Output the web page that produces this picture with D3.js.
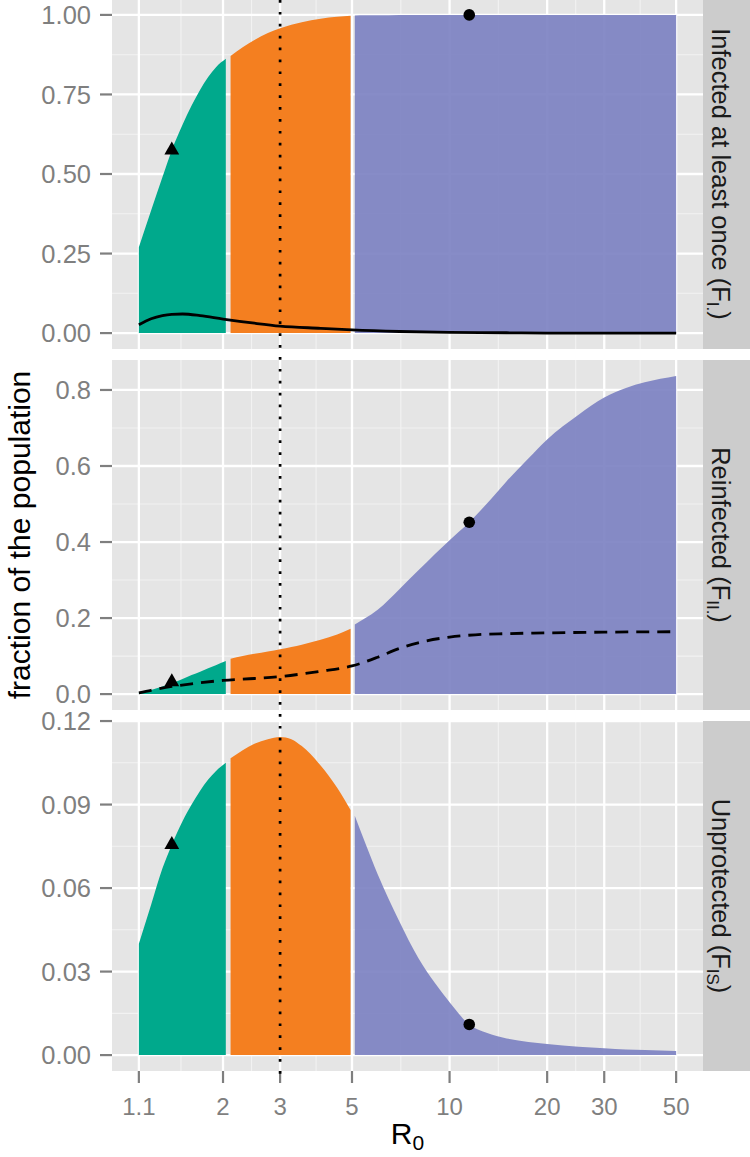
<!DOCTYPE html>
<html><head><meta charset="utf-8">
<script src="https://cdn.jsdelivr.net/npm/d3@7"></script>
<style>
body{margin:0;background:#fff}
svg{display:block}
text{font-family:"Liberation Sans",Arial,Helvetica,sans-serif}
</style>
</head><body>
<svg id="chart" width="750" height="1157"></svg>
<script>
// ---------------- data ----------------
const xTicks = [1.1, 2, 3, 5, 10, 20, 30, 50];
const xTickLabels = ["1.1", "2", "3", "5", "10", "20", "30", "50"];

const greenR  = [1.1, 1.2, 1.3, 1.39, 1.5, 1.6, 1.7, 1.8, 1.9, 2.04];
const orangeR = [2.11, 2.3, 2.5, 2.75, 3, 3.25, 3.5, 4, 4.5, 4.95];
const purpleR = [5.1, 5.5, 6, 7, 8, 9, 10, 11.5, 13, 15, 17.5, 20, 25, 30, 35, 40, 50];

// Infected at least once (F_I.)
const fiGreen  = [0.27, 0.385, 0.49, 0.575, 0.655, 0.715, 0.765, 0.805, 0.835, 0.862];
const fiOrange = [0.871, 0.898, 0.921, 0.943, 0.958, 0.969, 0.977, 0.988, 0.994, 0.997];
const fiPurple = [0.998, 0.999, 0.999, 1, 1, 1, 1, 1, 1, 1, 1, 1, 1, 1, 1, 1, 1];
const fiLineR  = [1.1, 1.2, 1.3, 1.39, 1.5, 1.7, 2, 2.5, 3, 4, 5, 7, 10, 15, 20, 30, 50];
const fiLine   = [0.026, 0.045, 0.055, 0.059, 0.06, 0.055, 0.044, 0.031, 0.022, 0.015, 0.01, 0.005, 0.002, 0.001, 0, 0, 0];

// Reinfected (F_II.)
const fiiGreen  = [0.004, 0.011, 0.02, 0.029, 0.04, 0.05, 0.059, 0.068, 0.076, 0.087];
const fiiOrange = [0.093, 0.1, 0.106, 0.112, 0.118, 0.124, 0.13, 0.143, 0.157, 0.172];
const fiiPurple = [0.183, 0.2, 0.222, 0.276, 0.325, 0.368, 0.405, 0.452, 0.5, 0.56, 0.62, 0.67, 0.735, 0.78, 0.805, 0.82, 0.837];
const fiiLineR  = [1.1, 1.2, 1.39, 1.6, 2, 2.5, 3, 3.5, 4, 5, 6, 7, 8, 10, 12, 15, 20, 30, 50];
const fiiLine   = [0.003, 0.01, 0.02, 0.027, 0.036, 0.041, 0.046, 0.053, 0.06, 0.074, 0.097, 0.12, 0.135, 0.15, 0.156, 0.159, 0.161, 0.163, 0.164];

// Unprotected (F_IS)
const fisGreen  = [0.04, 0.054, 0.067, 0.0756, 0.084, 0.09, 0.095, 0.099, 0.102, 0.105];
const fisOrange = [0.1066, 0.1095, 0.1118, 0.1135, 0.1143, 0.1135, 0.111, 0.104, 0.096, 0.088];
const fisPurple = [0.086, 0.076, 0.065, 0.048, 0.035, 0.026, 0.019, 0.011, 0.008, 0.006, 0.0047, 0.004, 0.003, 0.0025, 0.002, 0.0018, 0.0015];

// marker points (same R0 in every panel)
const triangleR = 1.39;
const circleR = 11.5;
const triangleY = [0.575, 0.032, 0.0756];
const circleY = [1.0, 0.452, 0.011];

const refR0 = 3; // dotted reference line

const yTicks = [[0, 0.25, 0.5, 0.75, 1], [0, 0.2, 0.4, 0.6, 0.8], [0, 0.03, 0.06, 0.09, 0.12]];
const yTickLabels = [["0.00","0.25","0.50","0.75","1.00"], ["0.0","0.2","0.4","0.6","0.8"], ["0.00","0.03","0.06","0.09","0.12"]];
const stripMain = ["Infected at least once (F", "Reinfected (F", "Unprotected (F"];
const stripSub = ["I.", "II.", "IS"];

// ---------------- layout ----------------
const colors = { green: "#00A98C", orange: "#F47F20", purple: "rgba(122,127,193,0.9)" };
const panelLeft = 112, panelRight = 703, stripW = 47;
const panelTops = [-1, 360, 721], panelH = 350;

const svg = d3.select("#chart");

// x log scale with 5% expansion in log space
const lx0 = Math.log10(xTicks[0]), lx1 = Math.log10(xTicks[xTicks.length - 1]);
const ex = (lx1 - lx0) * 0.05;
const x = d3.scaleLog().domain([Math.pow(10, lx0 - ex), Math.pow(10, lx1 + ex)]).range([panelLeft, panelRight]);

const xMinor = [];
for (let i = 0; i < xTicks.length - 1; i++) xMinor.push(Math.pow(10, (Math.log10(xTicks[i]) + Math.log10(xTicks[i + 1])) / 2));

const panels = [
  { areas: [[greenR, fiGreen], [orangeR, fiOrange], [purpleR, fiPurple]], line: [fiLineR, fiLine], dash: null },
  { areas: [[greenR, fiiGreen], [orangeR, fiiOrange], [purpleR, fiiPurple]], line: [fiiLineR, fiiLine], dash: "13,8" },
  { areas: [[greenR, fisGreen], [orangeR, fisOrange], [purpleR, fisPurple]], line: null, dash: null }
];
const areaColors = [colors.green, colors.orange, colors.purple];

panels.forEach((p, i) => {
  const top = panelTops[i], bottom = top + panelH;
  let maxV = 0;
  p.areas.forEach(a => maxV = Math.max(maxV, d3.max(a[1])));
  if (p.line) maxV = Math.max(maxV, d3.max(p.line[1]));
  const ey = maxV * 0.05;
  const y = d3.scaleLinear().domain([-ey, maxV + ey]).range([bottom, top]);
  const g = svg.append("g");

  // background
  g.append("rect").attr("x", panelLeft).attr("y", top).attr("width", panelRight - panelLeft).attr("height", panelH).attr("fill", "#E5E5E5");
  // minor grid
  const ticks = yTicks[i];
  const yMinor = [];
  for (let k = 0; k < ticks.length; k++) {
    const step = ticks[1] - ticks[0];
    [ticks[k] - step / 2, ticks[k] + step / 2].forEach(v => { if (v > y.domain()[0] && v < y.domain()[1] && !yMinor.some(m => Math.abs(m - v) < 1e-9)) yMinor.push(v); });
  }
  g.selectAll(".ymin").data(yMinor).enter().append("line")
    .attr("x1", panelLeft).attr("x2", panelRight).attr("y1", d => y(d)).attr("y2", d => y(d))
    .attr("stroke", "#F2F2F2").attr("stroke-width", 1.1);
  g.selectAll(".xmin").data(xMinor).enter().append("line")
    .attr("x1", d => x(d)).attr("x2", d => x(d)).attr("y1", top).attr("y2", bottom)
    .attr("stroke", "#F2F2F2").attr("stroke-width", 1.1);
  // major grid
  g.selectAll(".ymaj").data(ticks).enter().append("line")
    .attr("x1", panelLeft).attr("x2", panelRight).attr("y1", d => y(d)).attr("y2", d => y(d))
    .attr("stroke", "#FFFFFF").attr("stroke-width", 2.3);
  g.selectAll(".xmaj").data(xTicks).enter().append("line")
    .attr("x1", d => x(d)).attr("x2", d => x(d)).attr("y1", top).attr("y2", bottom)
    .attr("stroke", "#FFFFFF").attr("stroke-width", 2.3);

  // clip
  const clipId = "clip" + i;
  svg.append("clipPath").attr("id", clipId).append("rect").attr("x", panelLeft).attr("y", top).attr("width", panelRight - panelLeft).attr("height", panelH);
  const gc = g.append("g").attr("clip-path", `url(#${clipId})`);

  // areas
  p.areas.forEach((a, j) => {
    const pts = a[0].map((r, k) => [r, a[1][k]]);
    const area = d3.area().x(d => x(d[0])).y0(y(0)).y1(d => y(d[1])).curve(d3.curveMonotoneX);
    gc.append("path").attr("d", area(pts)).attr("fill", areaColors[j]);
  });
  // line
  if (p.line) {
    const pts = p.line[0].map((r, k) => [r, p.line[1][k]]);
    const line = d3.line().x(d => x(d[0])).y(d => y(d[1])).curve(d3.curveMonotoneX);
    gc.append("path").attr("d", line(pts)).attr("fill", "none").attr("stroke", "#000")
      .attr("stroke-width", 2.8).attr("stroke-dasharray", p.dash);
  }
  // markers
  gc.append("path").attr("d", d3.symbol().type(d3.symbolTriangle).size(95)())
    .attr("transform", `translate(${x(triangleR)},${y(triangleY[i])})`).attr("fill", "#000");
  gc.append("circle").attr("cx", x(circleR)).attr("cy", y(circleY[i])).attr("r", 5.8).attr("fill", "#000");

  // y axis
  const ya = g.append("g");
  ticks.forEach((t, k) => {
    ya.append("line").attr("x1", panelLeft - 12).attr("x2", panelLeft).attr("y1", y(t)).attr("y2", y(t))
      .attr("stroke", "#7F7F7F").attr("stroke-width", 2.2);
    ya.append("text").attr("x", panelLeft - 21).attr("y", y(t)).attr("dy", "0.36em")
      .attr("text-anchor", "end").attr("font-size", 25.5).attr("fill", "#7F7F7F").text(yTickLabels[i][k]);
  });

  // strip
  g.append("rect").attr("x", panelRight).attr("y", top).attr("width", stripW).attr("height", panelH).attr("fill", "#CCCCCC");
  const st = g.append("text").attr("transform", `translate(${panelRight + 9},${top + panelH / 2}) rotate(90)`)
    .attr("text-anchor", "middle").attr("font-size", 25.5).attr("fill", "#1A1A1A");
  st.append("tspan").text(stripMain[i]);
  st.append("tspan").attr("font-size", 17).attr("dy", 5).text(stripSub[i]);
  st.append("tspan").attr("dy", -5).text(")");
});

// x axis
const axisTop = panelTops[2] + panelH;
const xa = svg.append("g");
xTicks.forEach((t, k) => {
  xa.append("line").attr("x1", x(t)).attr("x2", x(t)).attr("y1", axisTop).attr("y2", axisTop + 12)
    .attr("stroke", "#7F7F7F").attr("stroke-width", 2.2);
  xa.append("text").attr("x", x(t)).attr("y", axisTop + 44).attr("text-anchor", "middle")
    .attr("font-size", 24).attr("fill", "#7F7F7F").text(xTickLabels[k]);
});

// dotted reference line across all panels
svg.append("line").attr("x1", x(refR0)).attr("x2", x(refR0)).attr("y1", 0).attr("y2", axisTop + 12)
  .attr("stroke", "#000").attr("stroke-width", 2.7).attr("stroke-dasharray", "2.7,9.2");

// axis titles
const xt = svg.append("text").attr("x", (panelLeft + panelRight) / 2).attr("y", 1144).attr("text-anchor", "middle")
  .attr("font-size", 30).attr("fill", "#000");
xt.append("tspan").text("R");
xt.append("tspan").attr("font-size", 21).attr("dy", 6).text("0");

svg.append("text").attr("transform", `translate(30,${(panelTops[0] + panelTops[2] + panelH) / 2}) rotate(-90)`)
  .attr("text-anchor", "middle").attr("font-size", 30).attr("fill", "#000").text("fraction of the population");
</script>
</body></html>
